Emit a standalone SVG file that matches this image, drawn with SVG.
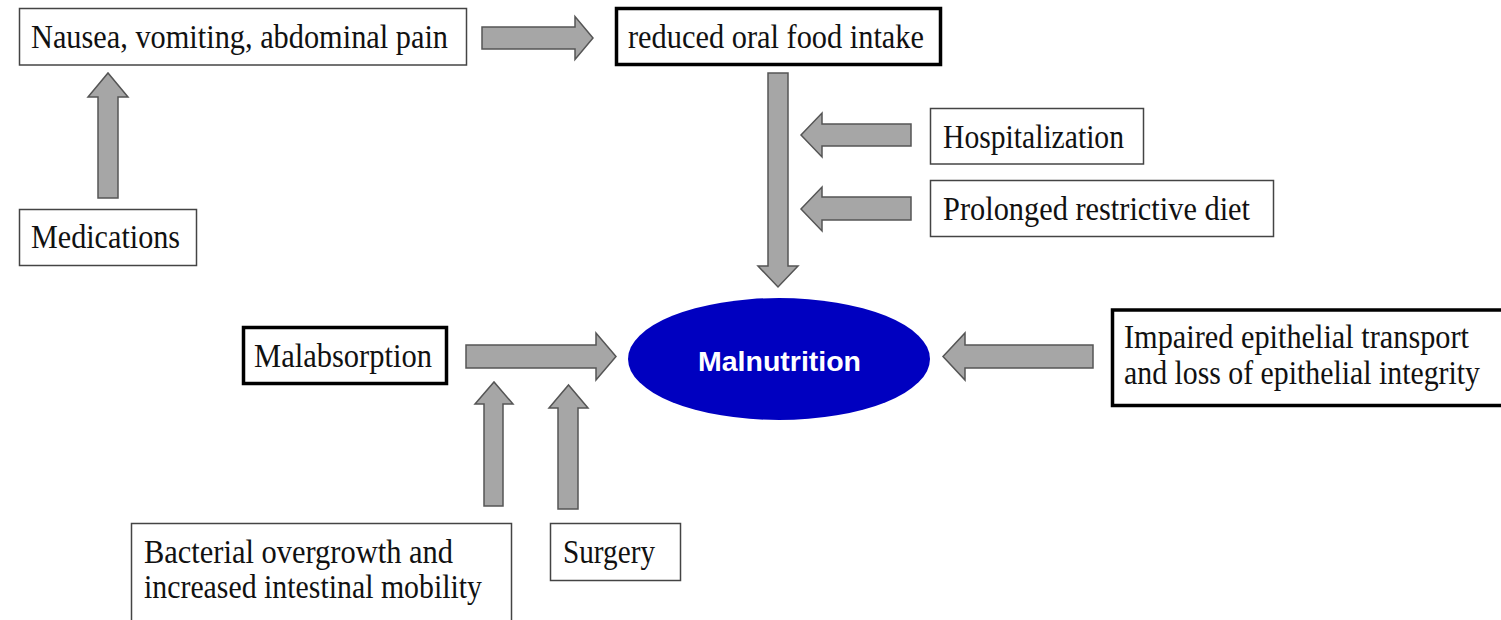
<svg xmlns="http://www.w3.org/2000/svg" width="1501" height="620" viewBox="0 0 1501 620">
<style>
.box{fill:#fff;stroke:#444;stroke-width:1.5}
.tbox{fill:#fff;stroke:#000;stroke-width:3.5}
.t{font-family:"Liberation Serif","Times New Roman",serif;font-size:34.5px;fill:#111}
.arr{fill:#a6a6a6;stroke:#555;stroke-width:1.5;stroke-linejoin:miter}
.ell{fill:#0000c0}
.et{font-family:"Liberation Sans",Arial,sans-serif;font-size:28.5px;font-weight:bold;fill:#fff}
</style>
<rect width="1501" height="620" fill="#fff"/>
<g id="connectors">
<polygon class="arr" points="482,27 575,27 575,16.5 593,38 575,59.5 575,49 482,49"/>
<polygon class="arr" points="98,198 98,97 88,97 108,73 128,97 118,97 118,198"/>
<polygon class="arr" points="768,73 788,73 788,266 798,266 778,287 758,266 768,266"/>
<polygon class="arr" points="911,124 822,124 822,113 801,135 822,157 822,146 911,146"/>
<polygon class="arr" points="911,197 822,197 822,187 801,209 822,231 822,220 911,220"/>
<polygon class="arr" points="466,345 596,345 596,333 616,356.5 596,380 596,368 466,368"/>
<polygon class="arr" points="1093,345 965,345 965,333 943,356.5 965,380 965,368 1093,368"/>
<polygon class="arr" points="484,506 484,404 475,404 494,382 513,404 503,404 503,506"/>
<polygon class="arr" points="558,509 558,408 549,408 568.5,385 588,408 578,408 578,509"/>
</g>
<g id="nausea">
<rect class="box" x="19.5" y="8.5" width="447" height="56.5"/>
<text class="t" x="31" y="48" textLength="417" lengthAdjust="spacingAndGlyphs">Nausea, vomiting, abdominal pain</text>
</g>
<g id="reduced">
<rect class="tbox" x="616.5" y="8.5" width="324" height="56"/>
<text class="t" x="628" y="48" textLength="296" lengthAdjust="spacingAndGlyphs">reduced oral food intake</text>
</g>
<g id="medications">
<rect class="box" x="19.5" y="209.5" width="177" height="56"/>
<text class="t" x="31" y="248" textLength="149" lengthAdjust="spacingAndGlyphs">Medications</text>
</g>
<g id="hospitalization">
<rect class="box" x="930.5" y="108.5" width="213" height="55.5"/>
<text class="t" x="943" y="148" textLength="181" lengthAdjust="spacingAndGlyphs">Hospitalization</text>
</g>
<g id="prolonged">
<rect class="box" x="930.5" y="180.5" width="343" height="56"/>
<text class="t" x="943" y="220" textLength="307" lengthAdjust="spacingAndGlyphs">Prolonged restrictive diet</text>
</g>
<g id="malabsorption">
<rect class="tbox" x="243.5" y="327.5" width="203" height="56"/>
<text class="t" x="254" y="367" textLength="178" lengthAdjust="spacingAndGlyphs">Malabsorption</text>
</g>
<g id="malnutrition">
<ellipse class="ell" cx="779" cy="359" rx="151" ry="61"/>
<text class="et" x="779.5" y="371" text-anchor="middle">Malnutrition</text>
</g>
<g id="impaired">
<rect class="tbox" x="1112.5" y="310" width="400" height="95.5"/>
<text class="t" x="1124" y="348" textLength="345" lengthAdjust="spacingAndGlyphs">Impaired epithelial transport</text>
<text class="t" x="1124" y="384" textLength="356" lengthAdjust="spacingAndGlyphs">and loss of epithelial integrity</text>
</g>
<g id="bacterial">
<rect class="box" x="131.5" y="523.5" width="380" height="110"/>
<text class="t" x="144" y="563" textLength="309" lengthAdjust="spacingAndGlyphs">Bacterial overgrowth and</text>
<text class="t" x="144" y="598" textLength="338" lengthAdjust="spacingAndGlyphs">increased intestinal mobility</text>
</g>
<g id="surgery">
<rect class="box" x="550.5" y="523.5" width="130" height="57"/>
<text class="t" x="563" y="563" textLength="92" lengthAdjust="spacingAndGlyphs">Surgery</text>
</g>
</svg>
